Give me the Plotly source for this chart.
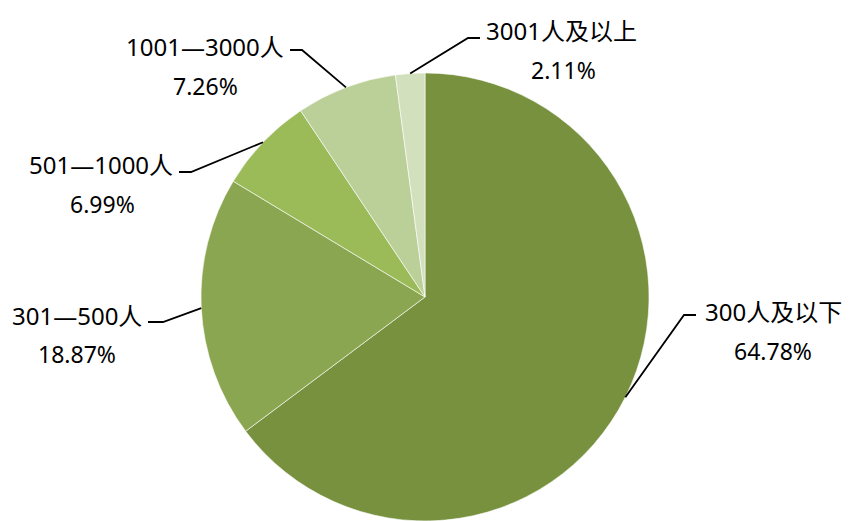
import math
import plotly.graph_objects as go

# ---- data ----
categories = ["300人及以下", "301—500人", "501—1000人", "1001—3000人", "3001人及以上"]
shares = [64.78, 18.87, 6.99, 7.26, 2.11]
pct_labels = ["64.78%", "18.87%", "6.99%", "7.26%", "2.11%"]

# ---- style / layout ----
W, H = 849, 521
colors = ["#77913F", "#8BA651", "#9BBB59", "#BBCF98", "#D3E0BD"]
dom_x = [0.2356, 0.7656]
dom_y = [0.0, 0.86]
FONT = "Noto Sans, Noto Sans CJK SC, sans-serif"
FS = 24

# label layout (pixel positions): name center, pct center, elbow, stub end
label_layout = [
    dict(name=(773, 311), pct=(773, 351), elbow=(684, 315), stub=(696, 315)),
    dict(name=(77, 315), pct=(77, 354), elbow=(163, 322), stub=(148, 322)),
    dict(name=(101, 164), pct=(102, 204), elbow=(191, 172), stub=(179, 172)),
    dict(name=(205, 46), pct=(205, 86), elbow=(302, 50), stub=(290, 50)),
    dict(name=(561, 31), pct=(563, 70), elbow=(468, 38), stub=(480, 38)),
]

fig = go.Figure(go.Pie(
    labels=categories, values=shares, sort=False, direction="clockwise", rotation=0,
    marker=dict(colors=colors, line=dict(color="#FFFFFF", width=0.6)),
    textinfo="none", hoverinfo="label+percent", showlegend=False,
    domain=dict(x=dom_x, y=dom_y),
))

# pie geometry in pixels (derived from domain)
dw = (dom_x[1] - dom_x[0]) * W
dh = (dom_y[1] - dom_y[0]) * H
R = min(dw, dh) / 2
cx = (dom_x[0] + dom_x[1]) / 2 * W
cy = H - (dom_y[0] + dom_y[1]) / 2 * H

def px2paper(x, y):
    return x / W, 1 - y / H

total = sum(shares)
cum = 0.0
shapes, annotations = [], []
for cat, v, pl, lay in zip(categories, shares, pct_labels, label_layout):
    mid = (cum + v / 2) / total * 2 * math.pi
    cum += v
    ex = cx + R * math.sin(mid)
    ey = cy - R * math.cos(mid)
    p0 = px2paper(ex, ey)
    p1 = px2paper(*lay["elbow"])
    p2 = px2paper(*lay["stub"])
    shapes.append(dict(type="path", xref="paper", yref="paper",
                       path=f"M {p0[0]},{p0[1]} L {p1[0]},{p1[1]} L {p2[0]},{p2[1]}",
                       line=dict(color="black", width=1.8)))
    nx, ny = px2paper(*lay["name"])
    annotations.append(dict(x=nx, y=ny, xref="paper", yref="paper", text=cat,
                            showarrow=False, xanchor="center", yanchor="middle",
                            font=dict(family=FONT, size=FS, color="black")))
    qx, qy = px2paper(*lay["pct"])
    annotations.append(dict(x=qx, y=qy, xref="paper", yref="paper", text=pl,
                            showarrow=False, xanchor="center", yanchor="middle",
                            font=dict(family=FONT, size=FS - 1, color="black")))

fig.update_layout(
    width=W, height=H, margin=dict(l=0, r=0, t=0, b=0),
    paper_bgcolor="white", plot_bgcolor="white",
    shapes=shapes, annotations=annotations,
)

fig.write_html("out.html", config={"displayModeBar": False},
               post_script="document.body.style.margin='0px';document.body.style.overflow='hidden';")
